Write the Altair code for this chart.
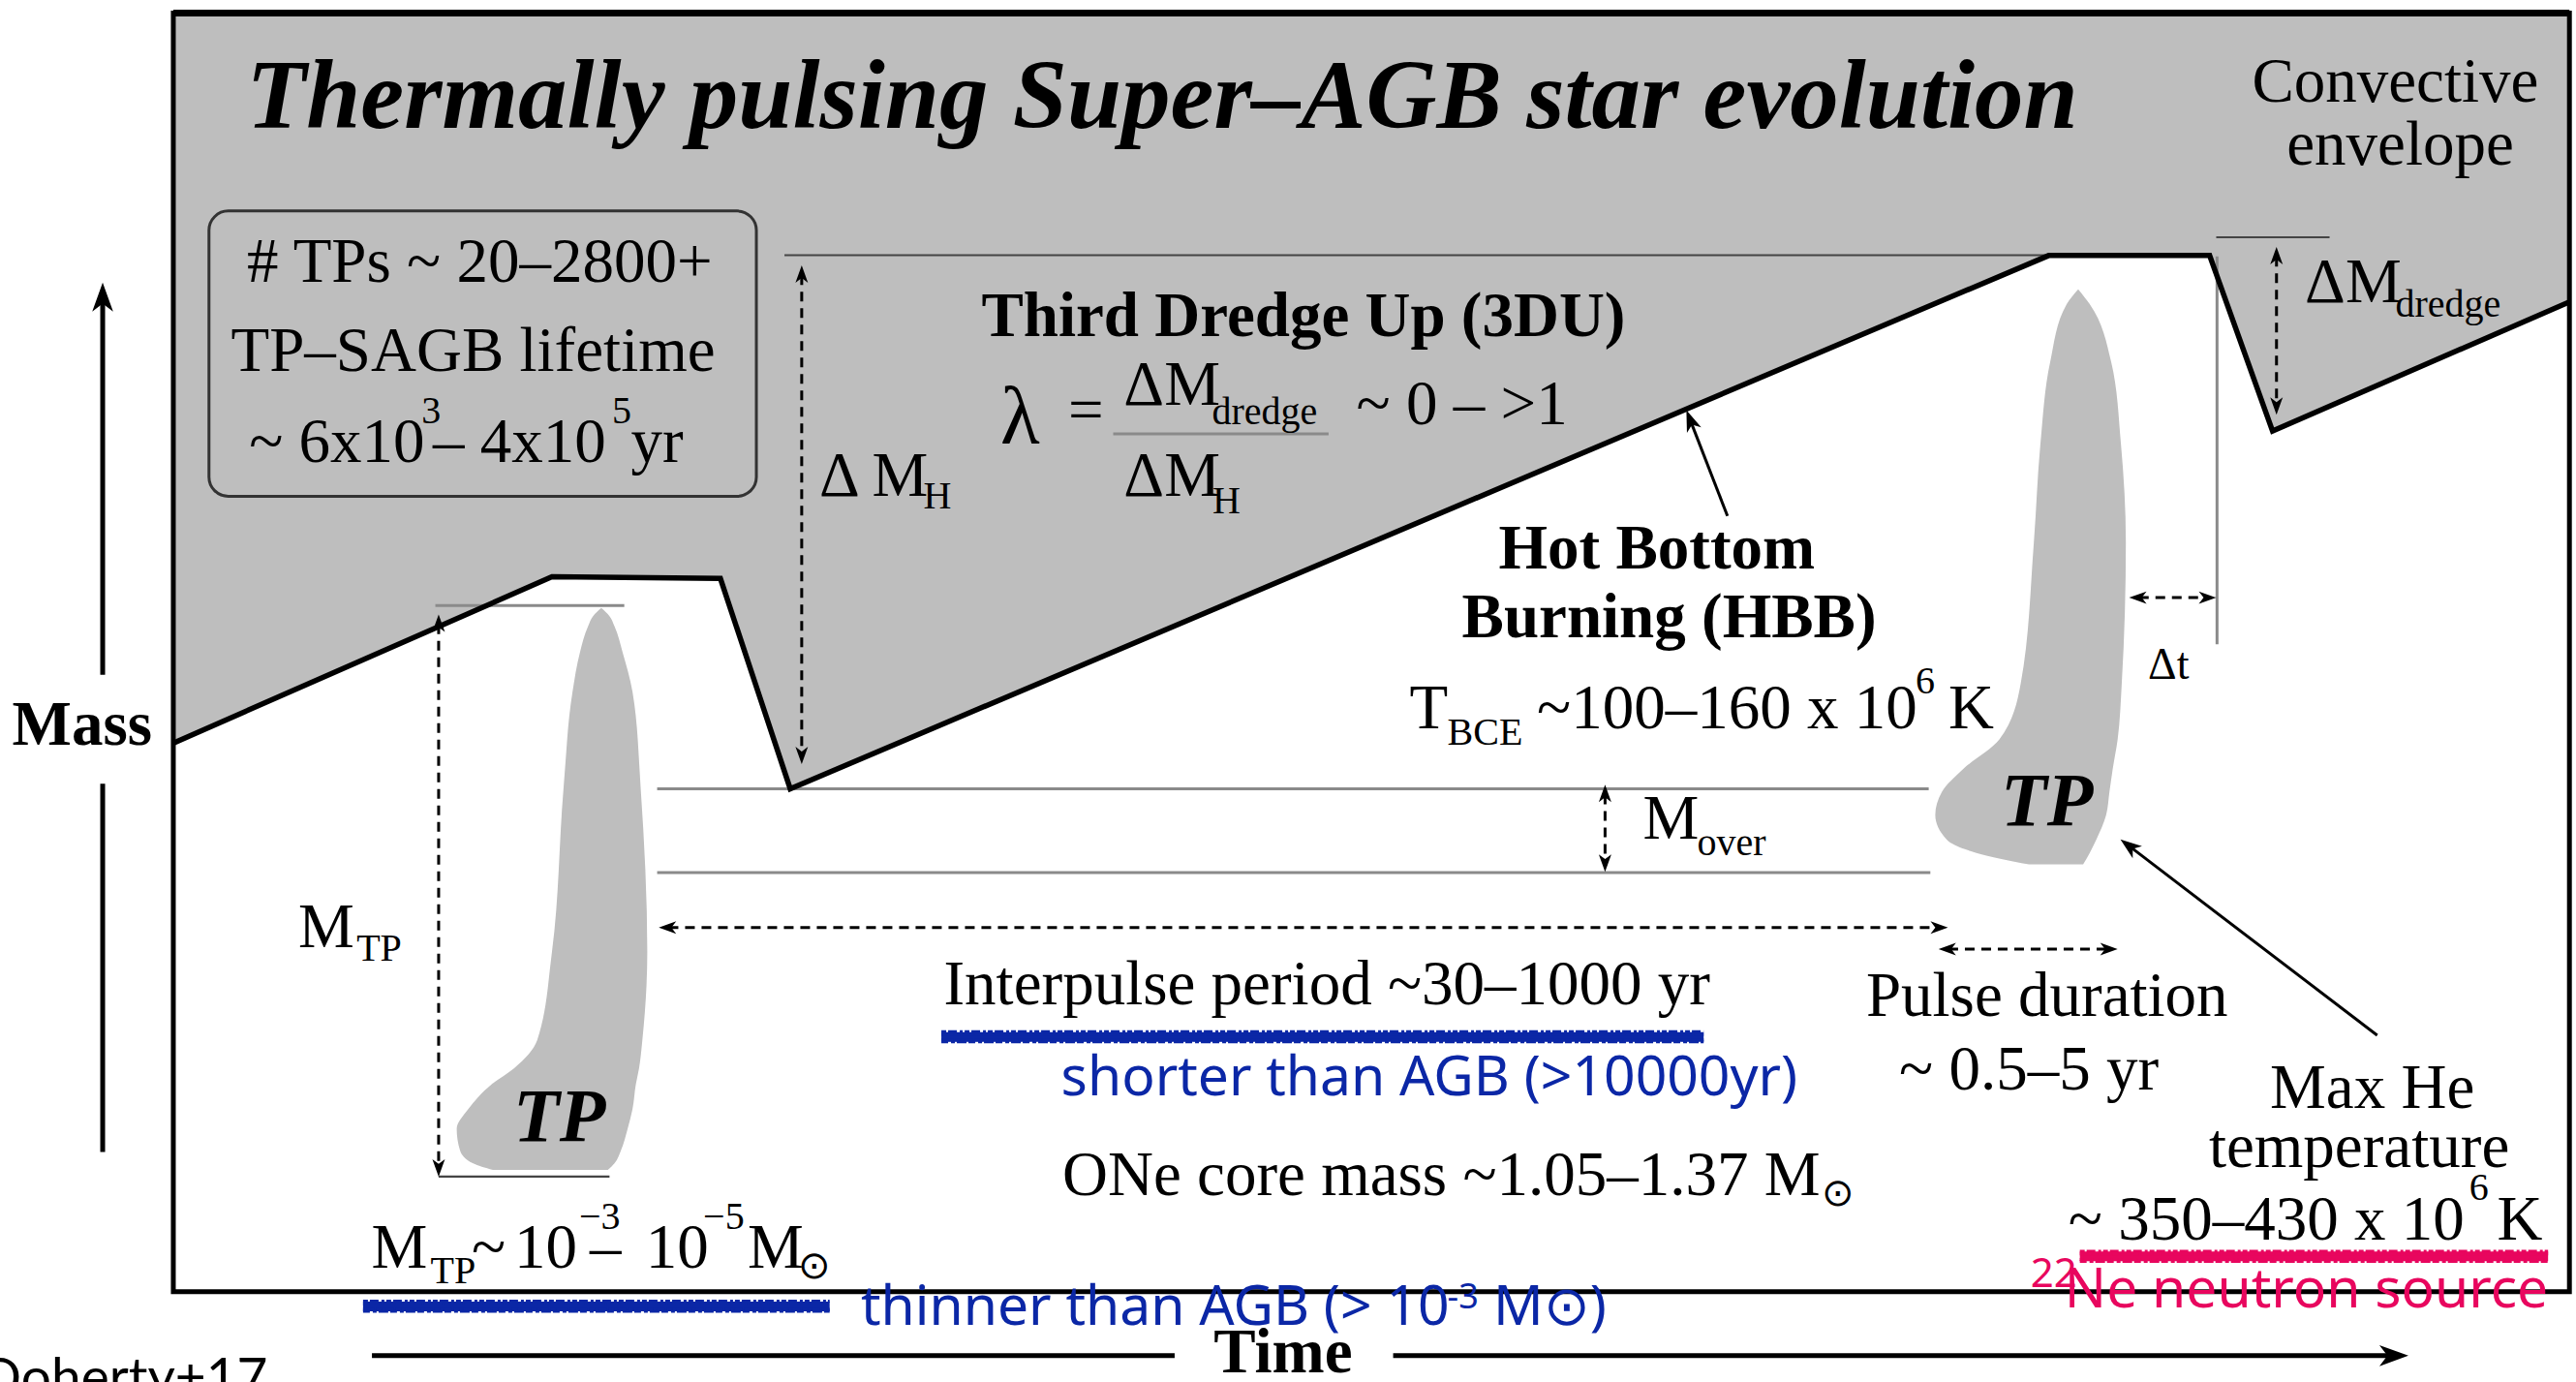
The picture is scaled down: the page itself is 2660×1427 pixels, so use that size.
import math
import pandas as pd
import altair as alt

# Canvas: the diagram is drawn on a 1568 x 841 reference grid, scaled to 2660 x 1427 pixels
W, H = 2660, 1427
GX, GY = 1568, 841

# ---------------- shapes (reference-grid coordinates) ----------------
# lower boundary of the convective envelope (grey region above it)
ENV_X = [106, 336, 438.5, 481, 1247, 1345, 1383.3, 1564]
ENV_Y = [452, 351, 352, 480, 155.5, 155.5, 262.3, 183.7]
ENV_TOP = 8

# thermal pulse plumes: y, left edge, right edge
LTP_Y = [370, 375, 381, 397, 421, 480, 579, 633, 650, 660, 675, 687, 700, 708, 712]
LTP_XL = [366, 361, 358, 353, 348.5, 343, 336, 327, 313, 299, 285, 278, 280, 288, 300]
LTP_XR = [366, 371, 374, 379, 385, 390, 394, 391, 389, 387, 385, 382, 378, 374, 370]

RTP_Y = [176, 185, 220, 270, 330, 416, 450, 468, 482, 496, 511, 519, 526]
RTP_XL = [1265, 1258, 1248, 1242, 1238, 1230, 1217, 1195, 1182, 1178, 1185, 1203, 1235]
RTP_XR = [1265, 1272, 1285, 1291, 1294, 1291.5, 1289, 1286, 1284, 1282, 1276, 1272, 1268]

FRAME = [(105.5, 8, 1564, 786)]
TP_BOX = [(127.2, 128.4, 460.4, 302)]

# guide lines (x1, y1, x2, y2)
DARK_GUIDES = [(477.5, 155.3, 1247, 155.3), (1349, 144.4, 1418, 144.4), (267, 716, 371, 716)]
GRAY_GUIDES = [(265, 368.5, 380, 368.5), (400, 480, 1174, 480), (400, 531, 1175, 531),
               (1349.5, 156, 1349.5, 392), (677.6, 264, 808.7, 264)]

# arrows (tail x, tail y, tip x, tip y)
AXIS_ARROWS = [(62.5, 410.7, 62.5, 172), (848, 825, 1466, 825)]
AXIS_LINES = [(62.5, 477, 62.5, 701), (226.4, 825, 715, 825)]
POINTERS = [(1051.5, 314, 1026.5, 249.6), (1447, 630, 1290.7, 510.8)]
MEASURES = [(488, 161.5, 488, 465), (267, 374, 267, 716), (977, 477.5, 977, 530.5),
            (1385.7, 150.3, 1385.7, 252.4), (401, 564.5, 1185.7, 564.5),
            (1180, 577.5, 1289, 577.5), (1296, 363.7, 1349, 363.7)]

BLUE_SCRIBBLES = [(573, 631, 1037, 631), (221, 795, 505, 795)]
PINK_SCRIBBLES = [(1266, 764.6, 1551, 764.6)]

# ---------------- texts (text, x, y-baseline, align) ----------------
TITLE = [("Thermally pulsing Super–AGB star evolution", 150, 78, "left")]
SERIF_MAIN = [
    ("Convective", 1458, 62, "center"), ("envelope", 1461, 100, "center"),
    ("# TPs ~ 20–2800+", 292, 171.5, "center"), ("TP–SAGB lifetime", 288, 225.6, "center"),
    ("~ 6x10", 151.6, 281, "left"), ("– 4x10", 263.5, 281, "left"), ("yr", 384, 281, "left"),
    ("Δ M", 498.7, 301.8, "left"),
    ("ΔM", 684, 246.3, "left"), ("ΔM", 684, 301.8, "left"), ("=", 661, 262, "center"),
    ("~ 0 – >1", 825.6, 258, "left"),
    ("ΔM", 1403, 183.7, "left"),
    ("T", 858, 443.3, "left"), ("~100–160 x 10", 935.5, 443.3, "left"), ("K", 1186, 443.3, "left"),
    ("M", 1000, 510.5, "left"),
    ("M", 181.6, 576.5, "left"),
    ("Interpulse period ~30–1000 yr", 807.7, 611.3, "center"),
    ("Pulse duration", 1246, 618.4, "center"), ("~ 0.5–5 yr", 1235, 663, "center"),
    ("Max He", 1444, 674.4, "center"), ("temperature", 1436, 710, "center"),
    ("~ 350–430 x 10", 1259, 754.5, "left"), ("K", 1520, 754.5, "left"),
    ("ONe core mass ~1.05–1.37 M", 646.7, 727.2, "left"),
    ("M", 226, 771.3, "left"), ("~", 287, 771.3, "left"), ("10", 313, 771.3, "left"),
    ("–", 359, 771.3, "left"), ("10", 393, 771.3, "left"), ("M", 455, 771.3, "left"),
]
SERIF_SUB = [
    ("3", 256.5, 257.6, "left"), ("5", 372.5, 257.6, "left"),
    ("H", 562, 309.5, "left"), ("dredge", 737.7, 258, "left"), ("H", 738, 312.5, "left"),
    ("dredge", 1458, 192.6, "left"), ("BCE", 881, 453.3, "left"), ("6", 1166, 421.9, "left"),
    ("over", 1033, 520.5, "left"), ("TP", 217, 584.6, "left"), ("6", 1503, 730, "left"),
    ("TP", 262, 780.8, "left"), ("−3", 352.5, 748, "left"), ("−5", 428, 748, "left"),
    ("⊙", 1109, 733.8, "left"), ("⊙", 486, 778, "left"),
]
SERIF_SMALL = [("Δt", 1320, 413, "center")]
SERIF_BOLD = [
    ("Third Dredge Up (3DU)", 597.4, 204.7, "left"),
    ("Hot Bottom", 1008.5, 346.2, "center"), ("Burning (HBB)", 1016, 387.6, "center"),
    ("Mass", 50, 453, "center"), ("Time", 781, 835, "center"),
]
TP_LABELS = [("TP", 340.5, 694, "center"), ("TP", 1246, 502, "center")]
LAMBDA = [("λ", 621, 270, "center")]
BLUE_NOTES = [("shorter than AGB (>10000yr)", 870, 666.8, "center"),
              ("thinner than AGB (> 10", 524, 806.2, "left"),
              ("M⊙)", 909, 806.2, "left")]
BLUE_SUP = [("-3", 881, 796, "left")]
PINK_NOTES = [("Ne neutron source", 1551, 795.7, "right")]
PINK_SUP = [("22", 1236, 783, "left")]
CREDIT = [("Doherty+17", 163, 849.5, "right")]

# ---------------- helpers ----------------
def sx():
    return alt.Scale(domain=[0, GX], range=[0, W], nice=False, zero=False)


def sy():
    return alt.Scale(domain=[0, GY], range=[0, H], nice=False, zero=False)


def X(f):
    return alt.X(f, type="quantitative", scale=sx(), axis=None)


def Y(f):
    return alt.Y(f, type="quantitative", scale=sy(), axis=None)


def seg_df(segs):
    return pd.DataFrame([dict(x=a, y=b, x2=c, y2=d) for a, b, c, d in segs])


def rules(segs, **mark):
    return alt.Chart(seg_df(segs)).mark_rule(**mark).encode(
        x=X("x"), y=Y("y"), x2=alt.X2("x2"), y2=alt.Y2("y2"))


ARROW_PATH = "M0,0 L0.72,2 L0,1.45 L-0.72,2 Z"


def head_angle(dx, dy):
    return math.degrees(math.atan2(dx, -dy)) % 360


def arrows(segs, double, cut, head_size, **mark):
    body, heads = [], []
    for x1, y1, x2, y2 in segs:
        L = math.hypot(x2 - x1, y2 - y1)
        ux, uy = (x2 - x1) / L, (y2 - y1) / L
        heads.append(dict(x=x2, y=y2, angle=head_angle(ux, uy)))
        ex1, ey1 = x1, y1
        if double:
            heads.append(dict(x=x1, y=y1, angle=head_angle(-ux, -uy)))
            ex1, ey1 = x1 + ux * cut, y1 + uy * cut
        body.append((ex1, ey1, x2 - ux * cut, y2 - uy * cut))
    line = rules(body, **mark)
    hd = alt.Chart(pd.DataFrame(heads)).mark_point(
        shape=ARROW_PATH, filled=True, color="black", opacity=1, strokeWidth=0
    ).encode(x=X("x"), y=Y("y"), angle=alt.Angle("angle:Q", scale=None),
             size=alt.value(head_size))
    return [line, hd]


def scribble(segs, color):
    """Highlighter-like underline: a solid core plus ragged dashed edges."""
    out = [rules(segs, color=color, strokeWidth=10)]
    for dy, dash in [(-3.2, [5, 2, 9, 3, 3, 2]), (3.0, [7, 3, 4, 2, 10, 2]),
                     (-1.5, [12, 1, 6, 2]), (1.8, [3, 1, 8, 2, 5, 1])]:
        shifted = [(a, b + dy, c, d + dy) for a, b, c, d in segs]
        out.append(rules(shifted, color=color, strokeWidth=3, strokeDash=dash))
    return out


def texts(items, font, size, color="black", weight="normal", style="normal"):
    out = []
    df = pd.DataFrame(items, columns=["text", "x", "y", "align"])
    for align, g in df.groupby("align"):
        out.append(alt.Chart(g).mark_text(
            font=font, fontSize=size, fontWeight=weight, fontStyle=style,
            align=align, baseline="alphabetic", color=color
        ).encode(x=X("x"), y=Y("y"), text="text:N"))
    return out


SERIF = "Liberation Serif"
GREY = "#bebebe"
BLUE = "#0b27a6"
PINK = "#e8065e"

# ---------------- layers ----------------
env = pd.DataFrame({"x": ENV_X, "y": ENV_Y, "top": [ENV_TOP] * len(ENV_X),
                    "i": list(range(len(ENV_X)))})
layers = []
layers.append(alt.Chart(env).mark_area(color=GREY, interpolate="linear").encode(
    x=X("x"), y=Y("y"), y2=alt.Y2("top")))

for ys, xl, xr in [(LTP_Y, LTP_XL, LTP_XR), (RTP_Y, RTP_XL, RTP_XR)]:
    tp = pd.DataFrame({"y": ys, "xl": xl, "xr": xr})
    layers.append(alt.Chart(tp).mark_area(orient="horizontal", color=GREY,
                                          interpolate="monotone").encode(
        y=Y("y"), x=X("xl"), x2=alt.X2("xr")))

layers.append(rules(DARK_GUIDES, color="#444444", strokeWidth=2.2))
layers.append(rules(GRAY_GUIDES, color="#8a8a8a", strokeWidth=3))

layers.append(alt.Chart(env).mark_line(color="black", strokeWidth=5.5, strokeJoin="miter").encode(
    x=X("x"), y=Y("y"), order="i:Q"))

box = pd.DataFrame([dict(x=a, y=b, x2=c, y2=d) for a, b, c, d in TP_BOX])
layers.append(alt.Chart(box).mark_rect(fillOpacity=0, stroke="#333333", strokeWidth=3,
                                       cornerRadius=20).encode(
    x=X("x"), y=Y("y"), x2=alt.X2("x2"), y2=alt.Y2("y2")))

layers += arrows(AXIS_ARROWS, False, 9, 900, color="black", strokeWidth=5)
layers.append(rules(AXIS_LINES, color="black", strokeWidth=5))
layers += arrows(POINTERS, False, 7, 484, color="black", strokeWidth=3)
layers += arrows(MEASURES, True, 6, 324, color="black", strokeWidth=3,
                 strokeDash=[10, 7])

layers += texts(TITLE, SERIF, 101, weight="bold", style="italic")
layers += texts(SERIF_MAIN, SERIF, 65)
layers += texts(SERIF_SUB, SERIF, 40)
layers += texts(SERIF_SMALL, SERIF, 46)
layers += texts(SERIF_BOLD, SERIF, 65, weight="bold")
layers += texts(TP_LABELS, SERIF, 78, weight="bold", style="italic")
layers += texts(LAMBDA, SERIF, 84)
layers += texts(CREDIT, "Lato", 55)

frame = pd.DataFrame([dict(x=a, y=b, x2=c, y2=d) for a, b, c, d in FRAME])
layers.append(alt.Chart(frame).mark_rect(fillOpacity=0, stroke="black", strokeWidth=5).encode(
    x=X("x"), y=Y("y"), x2=alt.X2("x2"), y2=alt.Y2("y2")))
layers.append(rules([(FRAME[0][0], FRAME[0][1], FRAME[0][2], FRAME[0][1])],
                    color="black", strokeWidth=7))

# hand-drawn annotations on top
layers += scribble(BLUE_SCRIBBLES, BLUE)
layers += scribble(PINK_SCRIBBLES, PINK)
layers += texts(BLUE_NOTES, "Noto Sans", 57, color=BLUE)
layers += texts(BLUE_SUP, "Noto Sans", 36, color=BLUE)
layers += texts(PINK_NOTES, "Noto Sans", 57, color=PINK)
layers += texts(PINK_SUP, "Noto Sans", 42, color=PINK)

chart = alt.layer(*layers).properties(
    width=W, height=H, padding=0, autosize=alt.AutoSizeParams(type="none"),
    background="white"
).configure_view(stroke=None)

chart.save("out.html", embed_options={"renderer": "svg", "actions": False})
